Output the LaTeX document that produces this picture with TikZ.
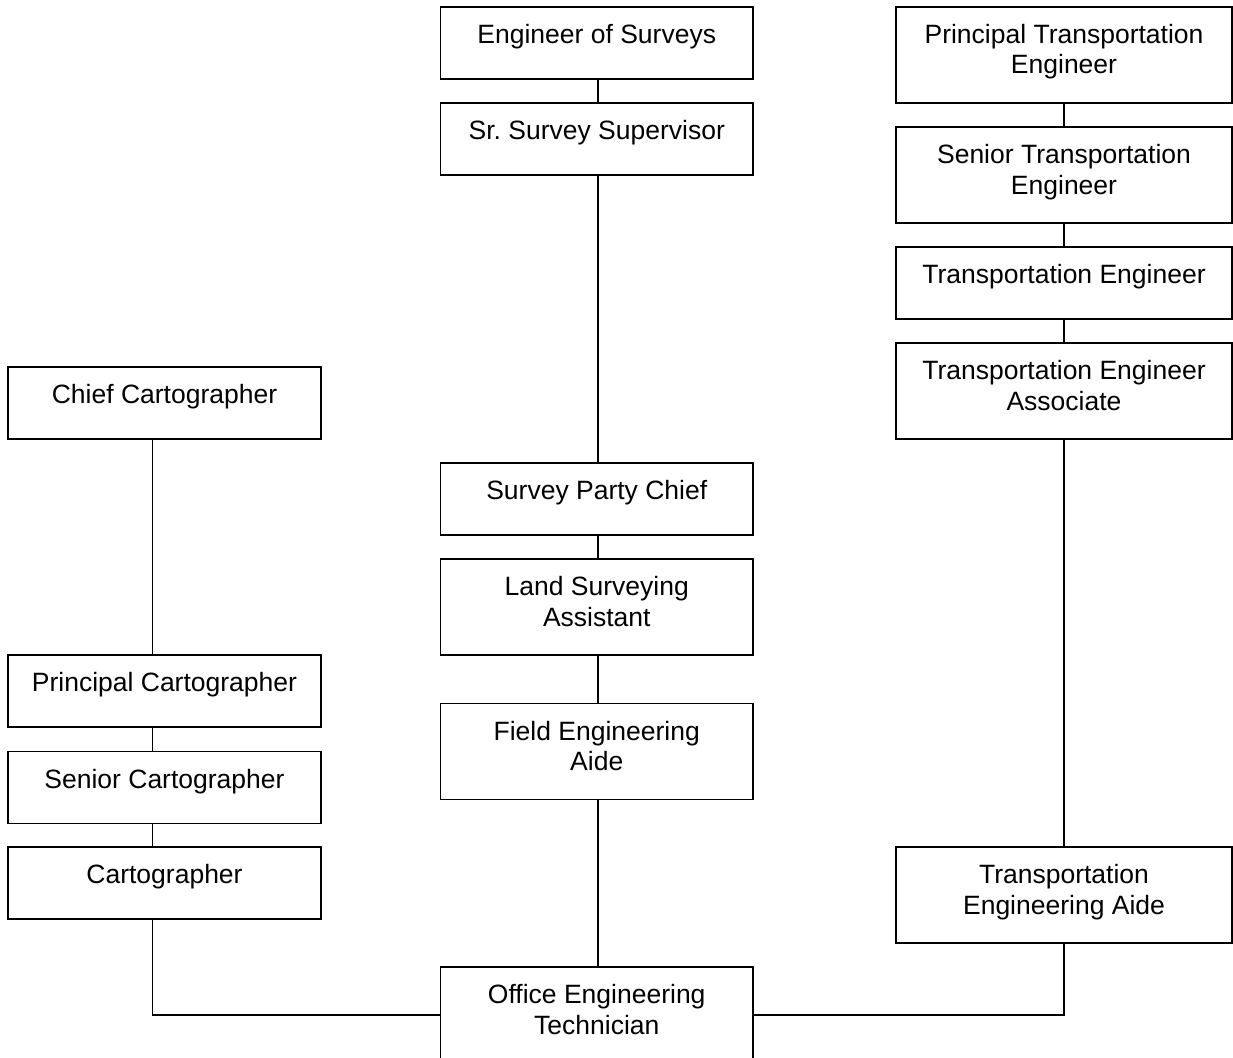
\documentclass[tikz,border=0pt]{standalone}
\usepackage{fontspec}
\setmainfont{Liberation Sans}
\frenchspacing
\tikzset{
  box/.style={draw=black, line width=1.9pt, fill=white, rectangle, inner sep=0pt, outer sep=0pt, anchor=north west},
  lbl/.style={inner sep=0pt, outer sep=0pt, text=black, font=\fontsize{26.5}{30.5}\selectfont},
  conn/.style={draw=black, line width=1.9pt}
}
\setlength{\tabcolsep}{0pt}
\newcommand\orgbox[6]{%
  \node[box, minimum width=#4pt, minimum height=#5pt] (#1) at (#2,#3) {};
  \node[lbl, anchor=base] (#1-t) at ([yshift=-36.5pt]#1.north) {\begin{tabular}[t]{@{}c@{}}#6\end{tabular}};%
}
\begin{document}
\begin{tikzpicture}[x=1pt,y=-1pt]
\fill[white] (0,0) rectangle (1233,1057);
\useasboundingbox (0,0) rectangle (1233,1057);
% middle column
\orgbox{eos}{440.5}{7}{312.5}{72}{Engineer of Surveys}
\orgbox{sss}{440.5}{103}{312.5}{72}{Sr.\ Survey Supervisor}
\orgbox{spc}{440.5}{463}{312.5}{72}{Survey Party Chief}
\orgbox{lsa}{440.5}{559}{312.5}{96}{Land Surveying\\Assistant}
\orgbox{fea}{440.5}{703.5}{312.5}{96}{Field Engineering\\Aide}
\orgbox{oet}{440.5}{967}{312.5}{96}{Office Engineering\\Technician}
% right column
\orgbox{pte}{896}{7}{336}{96}{Principal Transportation\\Engineer}
\orgbox{ste}{896}{127}{336}{96}{Senior Transportation\\Engineer}
\orgbox{te}{896}{247}{336}{72}{Transportation Engineer}
\orgbox{tea}{896}{343}{336}{96}{Transportation Engineer\\Associate}
\orgbox{tae}{896}{847}{336}{96}{Transportation\\Engineering Aide}
% left column
\orgbox{chief}{8}{367}{313}{72}{Chief Cartographer}
\orgbox{pc}{8}{655}{313}{72}{Principal Cartographer}
\orgbox{sc}{8}{751.5}{313}{72}{Senior Cartographer}
\orgbox{cart}{8}{847}{313}{72}{Cartographer}
% connectors middle
\draw[conn] ([xshift=1pt]eos.south) -- ([xshift=1pt]sss.north);
\draw[conn] ([xshift=1pt]sss.south) -- ([xshift=1pt]spc.north);
\draw[conn] ([xshift=1pt]spc.south) -- ([xshift=1pt]lsa.north);
\draw[conn] ([xshift=1pt]lsa.south) -- ([xshift=1pt]fea.north);
\draw[conn] ([xshift=1pt]fea.south) -- ([xshift=1pt]oet.north);
% connectors right
\draw[conn] (pte.south) -- (ste.north);
\draw[conn] (ste.south) -- (te.north);
\draw[conn] (te.south) -- (tea.north);
\draw[conn] (tea.south) -- (tae.north);
\draw[conn] (tae.south) |- (oet.east);
% connectors left
\draw[conn] ([xshift=-12pt]chief.south) -- ([xshift=-12pt]pc.north);
\draw[conn] ([xshift=-12pt]pc.south) -- ([xshift=-12pt]sc.north);
\draw[conn] ([xshift=-12pt]sc.south) -- ([xshift=-12pt]cart.north);
\draw[conn] ([xshift=-12pt]cart.south) |- (oet.west);
\end{tikzpicture}
\end{document}
